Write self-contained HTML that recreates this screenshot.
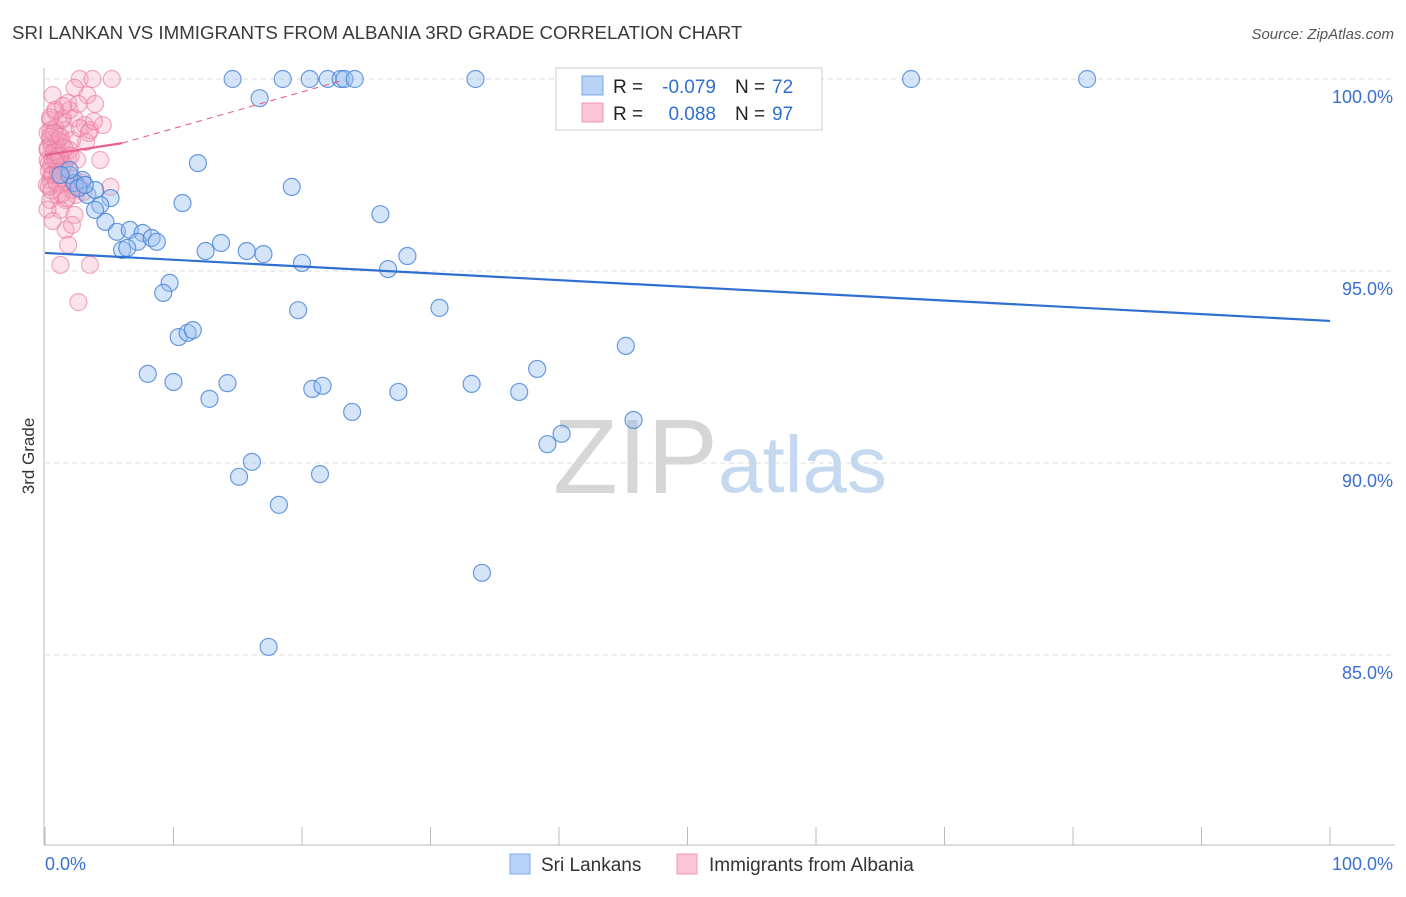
<!DOCTYPE html>
<html><head><meta charset="utf-8"><style>
body{margin:0;background:#fff;font-family:"Liberation Sans",sans-serif;}
svg text{font-family:"Liberation Sans",sans-serif;}
</style></head><body>
<svg id="chart" width="1406" height="892" viewBox="0 0 1406 892" xmlns="http://www.w3.org/2000/svg">
<text x="12" y="39" font-size="18.7" fill="#3a3a3a">SRI LANKAN VS IMMIGRANTS FROM ALBANIA 3RD GRADE CORRELATION CHART</text>
<text x="1394" y="39" font-size="15" font-style="italic" fill="#555" text-anchor="end">Source: ZipAtlas.com</text>
<text x="34" y="456" font-size="17" fill="#333" text-anchor="middle" transform="rotate(-90 34 456)">3rd Grade</text>
<g>
<text x="553" y="493" font-size="106" font-family="Liberation Serif" fill="#d6d6d6">ZIP</text>
<text x="718" y="492" font-size="80" fill="#c4d8f0">atlas</text>
</g>
<g id="grid"></g>
<g id="axes"></g>
<g id="points"></g>
<g id="trends"></g>
<g>
<rect x="556" y="68" width="266" height="62" fill="#fff" stroke="#ccc"/>
<rect x="582" y="76" width="21" height="19" fill="#b8d3f5" stroke="#7aa7e6"/>
<rect x="582" y="103" width="21" height="19" fill="#fcc5d5" stroke="#ef9ab5"/>
<text x="613" y="93" font-size="19" fill="#222">R =</text>
<text x="716" y="93" font-size="19" fill="#2f6fd0" text-anchor="end">-0.079</text>
<text x="735" y="93" font-size="19" fill="#222">N =</text>
<text x="772" y="93" font-size="19" fill="#2f6fd0">72</text>
<text x="613" y="120" font-size="19" fill="#222">R =</text>
<text x="716" y="120" font-size="19" fill="#2f6fd0" text-anchor="end">0.088</text>
<text x="735" y="120" font-size="19" fill="#222">N =</text>
<text x="772" y="120" font-size="19" fill="#2f6fd0">97</text>
</g>
<g>
<rect x="510" y="854" width="20" height="20" fill="#b8d3f5" stroke="#7aa7e6"/>
<text x="541" y="871" font-size="19" fill="#333">Sri Lankans</text>
<rect x="677" y="854" width="20" height="20" fill="#fcc5d5" stroke="#ef9ab5"/>
<text x="709" y="871" font-size="19" fill="#333">Immigrants from Albania</text>
</g>
</svg>
<script>
const yTicks=[100,95,90,85];
const yTickLabels=["100.0%","95.0%","90.0%","85.0%"];
const xTickCount=10;
const blueX=[14.6,18.5,20.6,22.0,23.0,23.3,24.1,33.5,41.6,67.4,81.1,16.7,11.9,19.2,10.7,26.1,2.9,3.3,5.1,4.3,3.9,4.7,5.6,6.6,7.6,7.2,8.3,8.7,6.0,6.4,12.5,13.7,15.7,17.0,20.0,26.7,28.2,9.7,9.2,19.7,30.7,10.4,11.1,11.5,45.2,8.0,10.0,14.2,12.8,20.8,21.6,27.5,33.2,36.9,38.3,23.9,45.8,39.1,40.2,16.1,15.1,21.4,18.2,34.0,17.4,1.9,2.3,2.6,3.9,3.1,1.9,1.2];
const blueY=[100,100,100,100,100,100,100,100,100,100,100,99.5,97.81,97.19,96.77,96.48,97.37,96.98,96.90,96.72,96.59,96.28,96.02,96.07,95.99,95.76,95.86,95.76,95.55,95.60,95.52,95.73,95.52,95.44,95.21,95.05,95.39,94.69,94.43,93.98,94.04,93.28,93.39,93.46,93.05,92.32,92.11,92.08,91.67,91.93,92.01,91.85,92.06,91.85,92.45,91.33,91.12,90.49,90.76,90.03,89.64,89.71,88.91,87.14,85.21,97.5,97.29,97.16,97.11,97.24,97.63,97.5];
const pinkX=[2.7,3.7,5.2,2.3,3.3,3.9,1.8,0.8,1.3,2.3,3.1,0.4,1.0,1.6,2.1,2.7,0.8,0.2,1.2,1.8,0.5,1.0,1.6,0.4,1.2,2.1,2.7,5.1,4.3,3.2,3.5,0.4,1.2,2.3,1.6,2.1,1.8,1.2,3.5,2.6,0.4,0.8,1.3,1.9,0.2,0.9,1.5,0.5,0.15,1.0,1.6,2.4,3.0,0.4,0.9,1.4,1.9,2.6,0.6,0.3,0.6,0.9,1.1,1.3,0.2,0.5,0.7,1.0,1.4,1.7,0.3,0.6,0.8,1.1,0.2,0.4,0.7,1.2,1.5,2.0,0.3,0.5,0.9,1.3,2.2,2.9,0.2,0.6,1.0,1.7,2.5,3.4,0.4,0.8,1.4,4.5,3.8];
const pinkY=[100,100,100,99.77,99.58,99.35,99.38,99.14,98.93,98.98,98.8,98.67,98.54,98.67,98.41,98.72,98.28,98.15,98.02,97.94,97.76,97.63,97.5,97.37,97.24,97.11,97.21,97.19,97.89,98.36,98.67,96.85,96.59,96.46,96.07,96.2,95.68,95.16,95.16,94.19,98.93,98.72,98.36,98.15,97.89,97.89,97.76,97.5,97.24,96.98,96.85,96.98,97.06,98.41,98.15,98.98,99.19,99.35,99.58,97.8,97.9,98.0,97.7,97.6,98.2,98.3,98.1,98.4,97.4,97.3,97.6,97.5,97.9,98.0,98.6,98.5,98.6,98.5,98.2,98.0,97.2,97.1,97.3,97.0,97.4,97.3,96.6,96.3,97.5,96.9,97.9,98.6,99.0,99.2,99.3,98.8,98.9];
const blueTrend=[95.47,93.7];
const pinkTrend=[98.02,98.33];
const pinkTrendExtX=[6,23];
const pinkTrendExtY=[98.33,99.95];
const X0=45,X1=1330,Y100=79,PX_PER_PCT=38.4;
const sx=v=>X0+(X1-X0)*v/100;
const sy=v=>Y100+(100-v)*PX_PER_PCT;
const NS="http://www.w3.org/2000/svg";
function mk(tag,attrs,parent){const e=document.createElementNS(NS,tag);for(const k in attrs)e.setAttribute(k,attrs[k]);parent.appendChild(e);return e;}
const grid=document.getElementById('grid'),axes=document.getElementById('axes'),pts=document.getElementById('points'),tr=document.getElementById('trends');
yTicks.forEach((t,i)=>{
  const l=mk('line',{x1:45,x2:1395,y1:sy(t),y2:sy(t),stroke:'#dcdcdc','stroke-dasharray':'5,4'},grid);
  
  
  const tx=mk('text',{x:1393,y:sy(t)+24,'font-size':18,fill:'#3b6fd0','text-anchor':'end'},grid);
  tx.textContent=yTickLabels[i];
  
  
});
const ya=mk('line',{x1:44,x2:44,y1:68,y2:845,stroke:'#bbb'},axes);


const xa=mk('line',{x1:44,x2:1395,y1:845,y2:845,stroke:'#bbb'},axes);


for(let i=0;i<=xTickCount;i++){
  const x=sx(i*100/xTickCount);
  const t=mk('line',{x1:x,x2:x,y1:827,y2:845,stroke:'#bbb'},axes);
  
  
}
const xl0=mk('text',{x:45,y:870,'font-size':18,fill:'#3b6fd0'},axes);xl0.textContent='0.0%';


const xl1=mk('text',{x:1393,y:870,'font-size':18,fill:'#3b6fd0','text-anchor':'end'},axes);xl1.textContent='100.0%';


pinkX.forEach((x,i)=>{
  const c=mk('circle',{cx:sx(x),cy:sy(pinkY[i]),r:8.5,fill:'rgba(246,160,188,0.3)',stroke:'rgba(232,120,155,0.6)','stroke-width':1.2},pts);
  
  
});
blueX.forEach((x,i)=>{
  const c=mk('circle',{cx:sx(x),cy:sy(blueY[i]),r:8.5,fill:'rgba(150,190,240,0.4)',stroke:'rgba(70,130,215,0.8)','stroke-width':1.2},pts);
  
  
});
const bt=mk('line',{x1:sx(0),y1:sy(blueTrend[0]),x2:sx(100),y2:sy(blueTrend[1]),stroke:'#2f6fd0','stroke-width':2.2},tr);


const pt=mk('line',{x1:sx(0),y1:sy(pinkTrend[0]),x2:sx(6),y2:sy(pinkTrend[1]),stroke:'#e8608a','stroke-width':2.2},tr);


const pd=mk('line',{x1:sx(pinkTrendExtX[0]),y1:sy(pinkTrendExtY[0]),x2:sx(pinkTrendExtX[1]),y2:sy(pinkTrendExtY[1]),stroke:'#e8608a','stroke-width':1.1,'stroke-dasharray':'6,5'},tr);


</script>
</body></html>
